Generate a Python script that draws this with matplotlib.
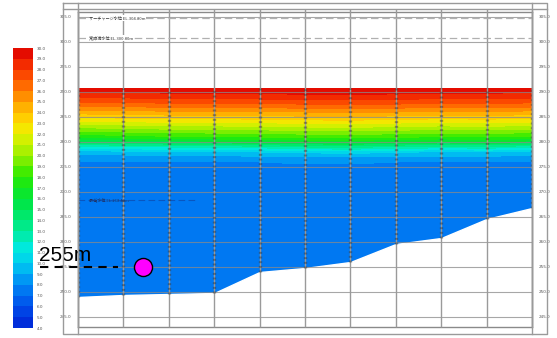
import numpy as np
import matplotlib
matplotlib.use('Agg')
import matplotlib.pyplot as plt
from matplotlib.colors import LinearSegmentedColormap
from matplotlib.lines import Line2D

# stations along the reservoir (0 = dam side)
stations = [0, 1, 2, 3, 4, 5, 6, 7, 8, 9, 10]

# measurement elevations (m), surface first
surface_elev = 290.8
elevs = [290.8, 290.0, 289.0, 288.0, 287.0, 286.0, 285.0, 284.0, 283.0, 282.0,
         281.0, 280.0, 279.0, 278.0, 277.0, 276.0, 274.0, 270.0, 260.0, 243.0]

# water temperature (deg C) per station, top to bottom
temps = [
    [29.7, 29.0, 28.1, 27.0, 25.8, 24.5, 23.2, 21.7, 20.2, 18.8, 17.2, 14.8, 11.5, 9.5, 8.5, 7.9, 7.5, 7.3, 7.2, 7.1],
    [29.8, 29.1, 28.2, 27.1, 25.9, 24.6, 23.3, 21.9, 20.4, 19.0, 17.5, 15.0, 11.8, 9.6, 8.6, 7.9, 7.5, 7.3, 7.2, 7.1],
    [29.8, 29.2, 28.3, 27.3, 26.1, 24.8, 23.5, 22.1, 20.6, 19.2, 17.8, 15.4, 12.0, 9.8, 8.7, 8.0, 7.6, 7.3, 7.2, 7.1],
    [29.8, 29.2, 28.3, 27.3, 26.1, 24.8, 23.5, 22.1, 20.7, 19.3, 17.9, 15.6, 12.2, 9.9, 8.7, 8.0, 7.6, 7.3, 7.2, 7.1],
    [29.8, 29.3, 28.4, 27.4, 26.2, 24.9, 23.6, 22.2, 20.8, 19.4, 18.0, 15.8, 12.4, 10.0, 8.8, 8.0, 7.6, 7.3, 7.2, 7.1],
    [29.9, 29.4, 28.5, 27.5, 26.3, 25.0, 23.8, 22.4, 21.0, 19.6, 18.2, 16.2, 13.0, 10.2, 8.9, 8.1, 7.6, 7.3, 7.2, 7.1],
    [29.9, 29.4, 28.6, 27.6, 26.4, 25.1, 23.9, 22.5, 21.1, 19.7, 18.3, 16.4, 13.2, 10.4, 9.0, 8.1, 7.6, 7.3, 7.2, 7.1],
    [29.8, 29.3, 28.5, 27.5, 26.3, 25.0, 23.7, 22.3, 20.9, 19.5, 18.1, 16.0, 12.8, 10.1, 8.9, 8.0, 7.6, 7.3, 7.2, 7.1],
    [29.8, 29.2, 28.3, 27.3, 26.1, 24.8, 23.5, 22.1, 20.7, 19.3, 17.9, 15.6, 12.4, 9.9, 8.8, 8.0, 7.5, 7.3, 7.2, 7.1],
    [29.8, 29.2, 28.4, 27.4, 26.2, 24.9, 23.6, 22.2, 20.8, 19.4, 18.0, 15.8, 12.6, 10.0, 8.8, 8.0, 7.5, 7.3, 7.2, 7.1],
    [29.7, 29.1, 28.2, 27.2, 26.0, 24.7, 23.4, 22.0, 20.6, 19.2, 17.8, 15.5, 12.2, 9.8, 8.7, 7.9, 7.5, 7.3, 7.2, 7.1],
]

# lake bed elevation at each station
bottom_elev = [249.0, 249.4, 249.6, 249.8, 254.0, 254.8, 256.0, 259.6, 260.8, 264.6, 266.8]

# reference water levels
level_lines = [304.8, 300.8, 268.4]
level_labels = ['サーチャージ水位 EL.304.80m', '常時満水位 EL.300.80m', '最低水位 EL.268.40m']

# intake marker
marker_station = 1.43
marker_elev = 255

temp_levels = np.arange(4, 31, 1)
elev_ticks = np.arange(245, 306, 5)

W, H = 557, 338


def fx(px):
    return px / W


def fy(py):
    return 1 - py / H


cmap = LinearSegmentedColormap.from_list('wt', [
    (0.0, (0.00, 0.14, 0.84)),
    (2 / 26, (0.00, 0.31, 0.92)),
    (4 / 26, (0.00, 0.53, 0.96)),
    (6 / 26, (0.00, 0.80, 0.94)),
    (7.5 / 26, (0.00, 0.92, 0.86)),
    (9 / 26, (0.00, 0.92, 0.59)),
    (12 / 26, (0.00, 0.90, 0.24)),
    (14 / 26, (0.16, 0.92, 0.00)),
    (16 / 26, (0.59, 0.94, 0.00)),
    (18 / 26, (0.90, 0.94, 0.00)),
    (19 / 26, (1.00, 0.88, 0.00)),
    (21 / 26, (1.00, 0.63, 0.00)),
    (23 / 26, (1.00, 0.35, 0.00)),
    (25 / 26, (0.94, 0.12, 0.00)),
    (1.0, (0.86, 0.00, 0.00)),
])

fig = plt.figure(figsize=(5.57, 3.38), dpi=100)
ax = fig.add_axes([fx(78), fy(327), fx(532) - fx(78), fy(12) - fy(327)])

Z = np.array(temps).T
cf = ax.contourf(stations, elevs, Z, levels=temp_levels, cmap=cmap, zorder=1)

# ground below the lake bed
ax.fill_between(stations, 243, bottom_elev, color='white', zorder=2)

# grid
ax.hlines(elev_ticks, 0, 10, colors='#8a8a8a', lw=0.8, alpha=0.75, zorder=3)
ax.vlines(stations, 243, 306.6, colors='#9a9a9a', lw=1.0, zorder=3, clip_on=False)
# measurement columns
ax.vlines(stations, bottom_elev, surface_elev, colors='#333333', lw=2.4,
          linestyles=(0, (0.6, 0.8)), alpha=0.45, zorder=4)

# reference water levels
ax.hlines(level_lines[:2], 0, 10, colors='#b0b0b0', lw=0.9, linestyles=(0, (6, 3)), zorder=3)
ax.hlines(level_lines[2], 0, 2.6, colors='#1040a0', lw=0.8, linestyles=(0, (6, 3)), alpha=0.6, zorder=3)
jp = ['Noto Sans CJK JP', 'DejaVu Sans']
for i, (yv, lab) in enumerate(zip(level_lines, level_labels)):
    bb = dict(fc='white', ec='none', pad=0.4) if i < 2 else None
    ax.text(0.25, yv, lab, fontsize=3, va='center', ha='left', family=jp,
            color='#333333' if i < 2 else '#203060', bbox=bb, zorder=5)

# intake point
ax.plot([-0.84, marker_station - 0.55], [marker_elev, marker_elev], color='black', lw=1.5,
        ls=(0, (4, 3)), clip_on=False, zorder=6)
ax.plot(marker_station, marker_elev, 'o', ms=13, mfc='#ff00ff', mec='black', mew=1,
        clip_on=False, zorder=7)
ax.text(-0.86, marker_elev + 0.3, f'{marker_elev}m', fontsize=15, va='bottom', ha='left',
        family=['Liberation Sans', 'DejaVu Sans'], clip_on=False, zorder=7)

ax.set_xlim(0, 10)
ax.set_ylim(243, 306)
ax.set_xticks([])
ax.set_yticks(elev_ticks)
ax.set_yticklabels([f'{v:.1f}' for v in elev_ticks])
ax.tick_params(axis='y', left=False, right=False, labelleft=True, labelright=True,
               labelsize=3, pad=1.5, colors='#555555')
for s in ax.spines.values():
    s.set_color('#8a8a8a')
    s.set_linewidth(1)

# sheet frame
frame = [
    ([63, 547, 547, 63, 63], [3, 3, 334, 334, 3]),
    ([63, 547], [9, 9]),
    ([78, 78], [3, 334]),
    ([532, 532], [3, 334]),
]
for xs, ys in frame:
    fig.add_artist(Line2D([fx(v) for v in xs], [fy(v) for v in ys], transform=fig.transFigure,
                          color='#9a9a9a', lw=1))

# colour bar
cax = fig.add_axes([fx(13), fy(328), fx(33) - fx(13), fy(48) - fy(328)])
cb = fig.colorbar(cf, cax=cax, ticks=temp_levels)
cb.outline.set_visible(False)
cb.ax.set_yticklabels([f'{v:.1f}' for v in temp_levels])
cax.tick_params(labelsize=3, length=0, pad=2.5, colors='#555555')

fig.savefig('out.png', dpi=100)
